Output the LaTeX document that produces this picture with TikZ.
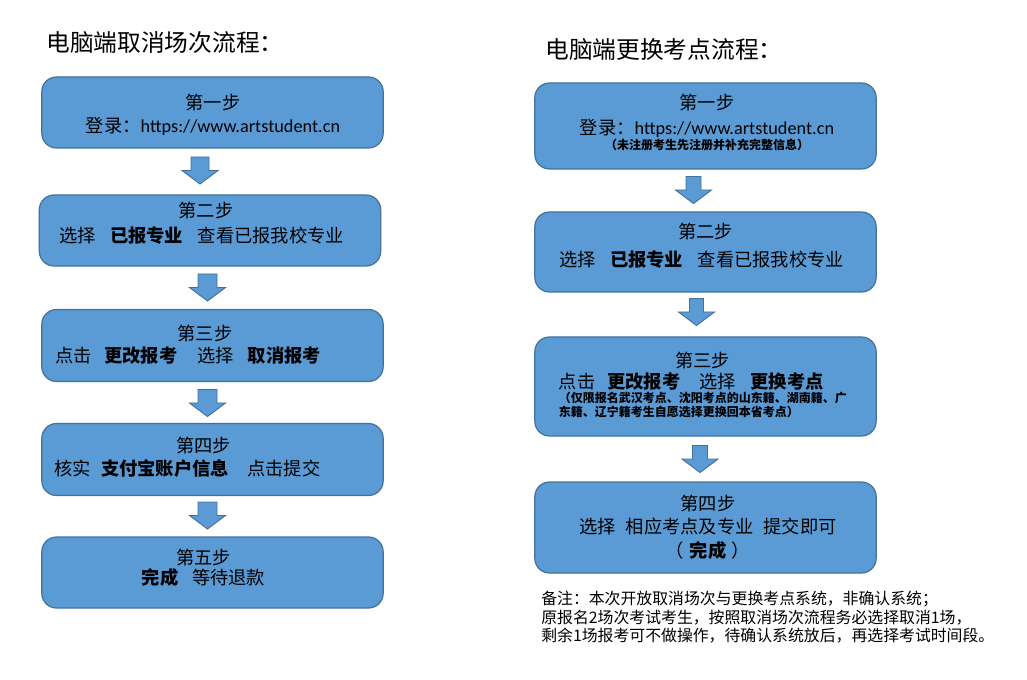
\documentclass[tikz,border=0pt]{standalone}
\usepackage{fontspec}
\setmainfont{Noto Sans CJK SC}
\newfontfamily\latfont{Carlito}
\usepackage{xcolor}
\usetikzlibrary{positioning}

\definecolor{boxblue}{HTML}{5B9BD5}
\definecolor{boxline}{HTML}{41719C}

\newcommand{\gap}[1]{\hspace{#1em}}

\begin{document}
\begin{tikzpicture}[x=0.75pt, y=-0.75pt,
  stepbox/.style={rectangle, rounded corners=11pt, draw=boxline, line width=0.9pt, fill=boxblue,
    minimum width=256pt, inner sep=0pt},
  steptext/.style={align=center, inner sep=0pt, font=\fontsize{13.7}{17.25}\selectfont},
  heading/.style={anchor=west, inner sep=0pt, font=\fontsize{17.8}{20}\selectfont},
  pics/downarrow/.style={code={
    \draw[draw=boxline, line width=0.7pt, fill=boxblue]
      (-#1,-13.5) -- (#1,-13.5) -- (#1,0) -- (18,0) -- (0,13.5) -- (-18,0) -- (-#1,0) -- cycle;}}
]
\useasboundingbox (0,0) rectangle (1027,680);

% Titles
\node[heading] (tl) at (46,43) {电脑端取消场次流程：};
\node[heading] (tr) at (545,50) {电脑端更换考点流程：};

% Left: cancel a session
\node[stepbox, minimum height=53.25pt] (l1) at (212.5,112.5) {};
\node[stepbox, minimum height=53.25pt] (l2) at (210,230.5) {};
\node[stepbox, minimum height=54pt] (l3) at (212.5,345.5) {};
\node[stepbox, minimum height=54pt] (l4) at (212.5,459.5) {};
\node[stepbox, minimum height=53.25pt] (l5) at (212.5,572.5) {};

\node[steptext] (l1t) at (213,114.5) {第一步\\登录：{\latfont https://www.artstudent.cn}};
\node[steptext] (l2t) at (210,223) {第二步\kern6pt\\[1.5pt]选择\gap{0.8}\textbf{已报专业}\gap{0.8}查看已报我校专业\kern12.75pt};
\node[steptext] (l3t) at (212.5,345) {第三步\kern11.25pt\\[-1pt]点击\gap{0.7}\textbf{更改报考}\gap{1.1}选择\gap{0.75}\textbf{取消报考}\kern36.75pt};
\node[steptext] (l4t) at (212.5,457) {第四步\kern13.5pt\\核实\gap{0.55}\textbf{支付宝账户信息}\gap{1}点击提交\kern37.5pt};
\node[steptext] (l5t) at (212.5,568) {第五步\kern13.5pt\\[-2pt]\textbf{完成}\gap{0.75}等待退款\kern13.5pt};

% Left arrows
\pic at (200,170.5) {downarrow=9};
\pic at (207.5,287.5) {downarrow=9.5};
\pic at (207.5,403) {downarrow=9.5};
\pic at (207.5,515.5) {downarrow=9.5};

% Right: change exam site
\node[stepbox, minimum height=64.5pt] (r1) at (705.5,126) {};
\node[stepbox, minimum height=60pt] (r2) at (705.5,252) {};
\node[stepbox, minimum height=74.25pt] (r3) at (705.5,386.5) {};
\node[stepbox, minimum height=68.25pt] (r4) at (705.5,527.5) {};

\node[steptext] (r1t) at (707,122) {第一步\\[1.5pt]登录：{\latfont https://www.artstudent.cn}\\[-6pt]{\fontsize{9}{10.5}\selectfont\bfseries （未注册考生先注册并补充完整信息）}};
\node[steptext] (r2t) at (705.5,246) {第二步\\[3.5pt]选择\gap{0.8}\textbf{已报专业}\gap{0.8}查看已报我校专业\kern6pt};
\node[steptext] (r3t) at (705.5,384.5) {第三步\kern4pt\\[-1pt]\parbox[t]{220pt}{\raggedright
  点击\gap{0.65}\textbf{更改报考}\gap{1.05}选择\gap{0.8}\textbf{更换考点}\par\vspace{-0.5pt}
  {\fontsize{9}{10.5}\selectfont\bfseries （仅限报名武汉考点、沈阳考点的山东籍、湖南籍、广\\东籍、辽宁籍考生自愿选择更换回本省考点）\par}}};
\node[steptext] (r4t) at (708,527.5) {第四步\\选择\gap{0.55}相应考点及专业\gap{0.55}提交即可\\[0.5pt]（\gap{0.3}\textbf{完成}\gap{0.3}）};

% Right arrows
\pic at (693.5,190) {downarrow=7.5};
\pic at (696.5,312) {downarrow=7};
\pic at (700,459) {downarrow=7.5};

% Note
\node[anchor=north west, align=left, inner sep=0pt, font=\fontsize{11.9}{13.9}\selectfont] (note) at (541,591)
  {备注：本次开放取消场次与更换考点系统，非确认系统；\\原报名2场次考试考生，按照取消场次流程务必选择取消1场，\\剩余1场报考可不做操作，待确认系统放后，再选择考试时间段。};

\end{tikzpicture}
\end{document}
